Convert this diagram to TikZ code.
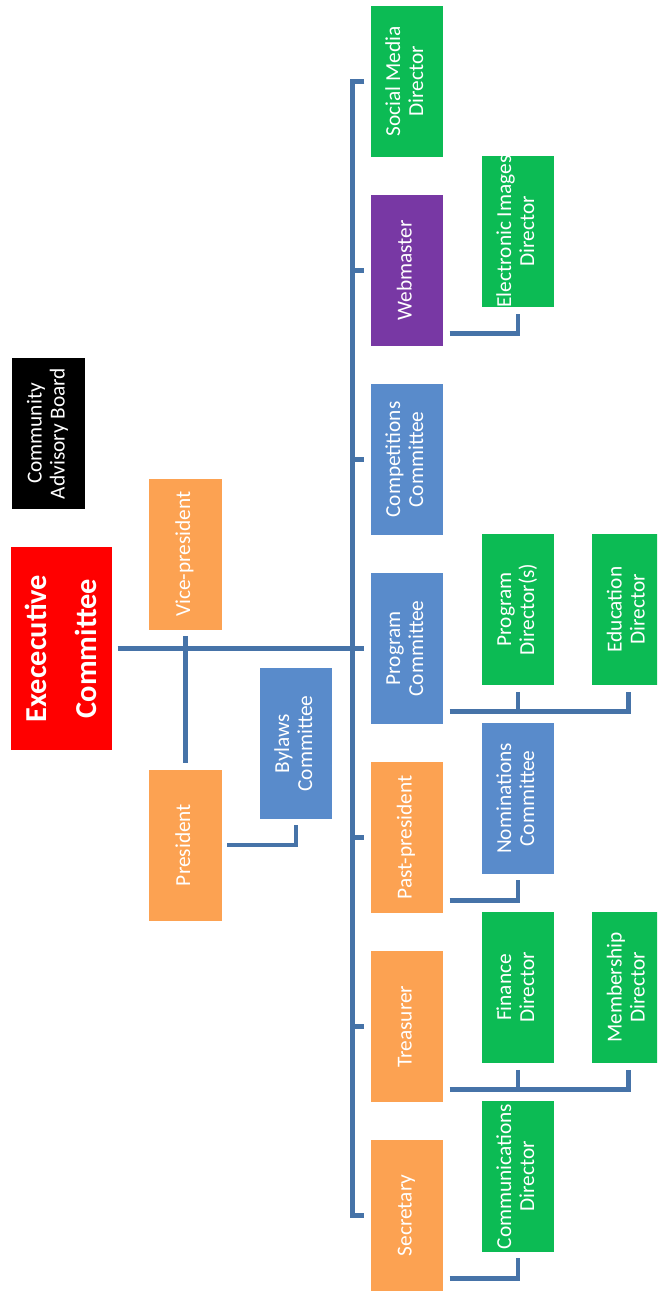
\documentclass[tikz,border=0pt]{standalone}
\usepackage{fontspec}
\setmainfont{Carlito}
\usepackage{graphicx}
\usepackage{tikz}
\definecolor{linkblue}{RGB}{70,115,168}
\definecolor{boxblue}{RGB}{89,139,203}
\definecolor{boxorange}{RGB}{252,162,82}
\definecolor{boxgreen}{RGB}{12,187,84}
\definecolor{boxpurple}{RGB}{120,56,164}
\newcommand{\vtext}[1]{\rotatebox{90}{\begin{tabular}{@{}c@{}}#1\end{tabular}}}

\begin{document}
\begin{tikzpicture}[
  x=0.75pt, y=-0.75pt,
  font=\fontsize{16}{17.25}\selectfont,
  orgbox/.style={rectangle, inner sep=0pt, text=white,
              minimum width=54.5pt, minimum height=113.25pt},
  orangebox/.style={orgbox, fill=boxorange},
  bluebox/.style={orgbox, fill=boxblue},
  greenbox/.style={orgbox, fill=boxgreen},
  purplebox/.style={orgbox, fill=boxpurple},
  blackbox/.style={orgbox, fill=black},
  redbox/.style={orgbox, fill=red, minimum width=74pt, minimum height=152pt,
              font=\bfseries\fontsize{22.8}{38}\selectfont},
  conn/.style={line width=3.6pt, linkblue}
]
\clip (0,0) rectangle (657,1292);
% left side
\node[blackbox] (cab)    at (48.5,433.5) {\vtext{Community\\Advisory Board}};
\node[redbox]   (exec)   at (61.3,648.5) {\vtext{Exececutive\\Committee}};
\node[orangebox] (vp)    at (185.5,554)  {\vtext{Vice-president}};
\node[orangebox] (pres)  at (185.5,845)  {\vtext{President}};
\node[bluebox]  (bylaws) at (296,743.5)  {\vtext{Bylaws\\Committee}};
% main column
\node[greenbox]  (soc)   at (407,81.5)   {\vtext{Social Media\\Director}};
\node[purplebox] (web)   at (407,270.5)  {\vtext{Webmaster}};
\node[bluebox]   (comp)  at (407,459.5)  {\vtext{Competitions\\Committee}};
\node[bluebox]   (prog)  at (407,648.5)  {\vtext{Program\\Committee}};
\node[orangebox] (past)  at (407,837.5)  {\vtext{Past-president}};
\node[orangebox] (treas) at (407,1026.5) {\vtext{Treasurer}};
\node[orangebox] (sec)   at (407,1215.5) {\vtext{Secretary}};
% directors
\node[greenbox] (elec) at (518,231.5)  {\vtext{Electronic Images\\Director}};
\node[greenbox] (pdir) at (518,609.5)  {\vtext{Program\\Director(s)}};
\node[bluebox]  (nom)  at (518,798.5)  {\vtext{Nominations\\Committee}};
\node[greenbox] (fin)  at (518,987.5)  {\vtext{Finance\\Director}};
\node[greenbox] (comm) at (518,1176.5) {\vtext{Communications\\Director}};
\node[greenbox] (edu)  at (628.5,609.5) {\vtext{Education\\Director}};
\node[greenbox] (mem)  at (628.5,987.5) {\vtext{Membership\\Director}};
% bus
\coordinate (bus) at (352.5,0);
\draw[conn] ([xshift=-4.5pt]soc.west) -| (bus |- sec.west) -- ([xshift=-4.5pt]sec.west);
\foreach \t in {web,comp,prog,past,treas}
  \draw[conn] (bus |- \t.west) -- ([xshift=-4.5pt]\t.west);
\draw[conn,shorten <=4pt] (exec.east) -- ([xshift=-4.5pt]prog.west);
\draw[conn,shorten <=4.5pt,shorten >=4.5pt] (vp.south) -- (pres.north);
\draw[conn,shorten <=4pt,shorten >=4.5pt] (pres.east) -| (bylaws.south);
% elbows
\draw[conn] ([shift={(6,-13)}]web.south east) -| ([yshift=-4.5pt]elec.south);
\draw[conn] ([shift={(6,-13)}]past.south east) -| ([yshift=-4.5pt]nom.south);
\draw[conn] ([shift={(6,-13)}]sec.south east) -| ([yshift=-4.5pt]comm.south);
\coordinate (progfork) at ([shift={(6,-13)}]prog.south east);
\draw[conn] (progfork) -| ([yshift=-5pt]edu.south);
\draw[conn] ([yshift=-5pt]pdir.south) -- (pdir |- progfork);
\coordinate (treasfork) at ([shift={(6,-13)}]treas.south east);
\draw[conn] (treasfork) -| ([yshift=-5pt]mem.south);
\draw[conn] ([yshift=-5pt]fin.south) -- (fin |- treasfork);
\end{tikzpicture}
\end{document}
